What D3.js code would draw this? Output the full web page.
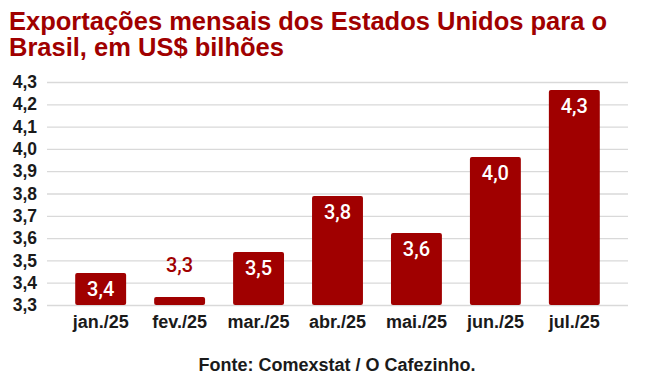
<!DOCTYPE html>
<html>
<head>
<meta charset="utf-8">
<script src="https://cdn.jsdelivr.net/npm/d3@7"></script>
<style>
  body { margin: 0; background: #fff; }
  text { font-family: "Liberation Sans", Arial, sans-serif; }
</style>
</head>
<body>
<div class="container"></div>
<script>
const months = ['jan./25', 'fev./25', 'mar./25', 'abr./25', 'mai./25', 'jun./25', 'jul./25']
const exports = [3.443, 3.336, 3.538, 3.789, 3.623, 3.964, 4.264]
const yTicks = [3.3, 3.4, 3.5, 3.6, 3.7, 3.8, 3.9, 4.0, 4.1, 4.2, 4.3]

const W = 646, H = 380
const red = '#a00000'
const fmt = v => d3.format('.1f')(v).replace('.', ',')

const svg = d3.select('.container').append('svg')
  .attr('width', W)
  .attr('height', H)

const x = d3.scaleBand()
  .domain(months)
  .range([61, 614])
  .paddingInner(0.355)
  .paddingOuter(0.18)

const y = d3.scaleLinear()
  .domain([3.3, 4.3])
  .range([305, 82])

// title
svg.append('text')
  .attr('x', 9)
  .attr('y', 30)
  .attr('fill', red)
  .style('font-size', '25.5px')
  .style('font-weight', 'bold')
  .text('Exportações mensais dos Estados Unidos para o')
svg.append('text')
  .attr('x', 9)
  .attr('y', 56)
  .attr('fill', red)
  .style('font-size', '25.5px')
  .style('font-weight', 'bold')
  .text('Brasil, em US$ bilhões')

// grid
svg.append('g')
  .attr('transform', 'translate(628,0)')
  .call(d3.axisLeft(y).tickValues(yTicks).tickSize(628 - 47).tickFormat(''))
  .call(g => g.select('.domain').remove())
  .call(g => g.selectAll('line').attr('stroke', '#d9d9d9').attr('stroke-width', 1.3))

svg.append('g')
  .attr('transform', 'translate(47,0)')
  .call(d3.axisLeft(y).tickValues(yTicks).tickSize(0).tickPadding(10).tickFormat(fmt))
  .call(g => g.select('.domain').remove())
  .call(g => g.selectAll('text')
    .attr('fill', '#1a1a1a')
    .style('font-size', '17.5px')
    .style('font-weight', 'bold')
    .style('font-family', '"Liberation Sans", Arial, sans-serif'))

// x axis labels
svg.append('g')
  .attr('transform', 'translate(0,305)')
  .call(d3.axisBottom(x).tickSize(0).tickPadding(10))
  .call(g => g.select('.domain').remove())
  .call(g => g.selectAll('text')
    .attr('fill', '#1a1a1a')
    .style('font-size', '18px')
    .style('font-weight', 'bold')
    .style('font-family', '"Liberation Sans", Arial, sans-serif'))

const data = months.map((m, i) => ({ m: m, v: exports[i] }))

svg.selectAll('rect.bar')
  .data(data)
  .enter()
  .append('rect')
  .attr('class', 'bar')
  .attr('x', d => x(d.m))
  .attr('y', d => y(d.v))
  .attr('width', x.bandwidth())
  .attr('height', d => 305 - y(d.v))
  .attr('rx', 2)
  .attr('fill', red)

svg.selectAll('text.val')
  .data(data)
  .enter()
  .append('text')
  .attr('class', 'val')
  .attr('x', d => x(d.m) + x.bandwidth() / 2)
  .attr('y', d => (305 - y(d.v)) > 30 ? y(d.v) + 23 : y(d.v) - 25)
  .attr('text-anchor', 'middle')
  .attr('fill', d => (305 - y(d.v)) > 30 ? '#fff' : red)
  .style('font-family', 'Roboto, sans-serif')
  .style('font-size', '20px')
  .style('font-weight', '500')
  .text(d => fmt(d.v))

svg.append('text')
  .attr('x', 337)
  .attr('y', 371)
  .attr('text-anchor', 'middle')
  .attr('fill', '#1a1a1a')
  .style('font-size', '18px')
  .style('font-weight', 'bold')
  .text('Fonte: Comexstat / O Cafezinho.')
</script>
</body>
</html>
